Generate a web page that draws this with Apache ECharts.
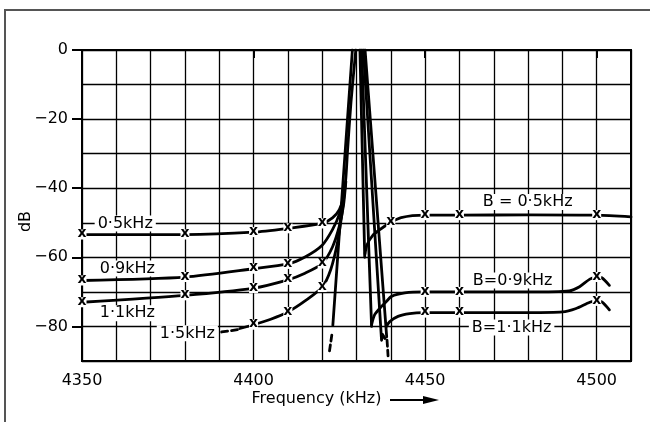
<!DOCTYPE html>
<html>
<head>
<meta charset="utf-8">
<script src="https://cdn.jsdelivr.net/npm/echarts@6/dist/echarts.min.js"></script>
<style>html,body{margin:0;padding:0;background:#fff}#c{width:650px;height:422px}</style>
</head>
<body>
<div id="c"></div>
<script>
// ---- tick labels ----
const xTicks = [4350, 4400, 4450, 4500];
const yTicks = [0, -20, -40, -60, -80];

// ---- lower-side curves (left of the pass band) ----
const curve05 = [[4350,-53.4],[4380,-53.4],[4400,-52.7],[4410,-51.6],[4420,-50.2],[4423,-48.6],[4425,-46.2],[4426.2,-42.5],[4426.9,-37],[4427.4,-29],[4428.4,-15],[4429.8,0]];
const curve09 = [[4350,-66.7],[4380,-65.7],[4400,-63.3],[4410,-61.9],[4415,-59.9],[4420,-56.5],[4423,-52],[4425,-47.5],[4426.2,-42.5]];
const curve11 = [[4350,-73],[4380,-71],[4400,-68.9],[4410,-66.5],[4415,-64.6],[4420,-61.8],[4423,-57],[4425,-51],[4426.2,-45],[4426.9,-38]];
const curve15Dash = [[4390.7,-81.6],[4395.5,-80.9]];
const curve15 = [[4396,-80.6],[4400,-79.5],[4405,-77.9],[4410,-75.8],[4415,-72.6],[4420,-68.6],[4422.5,-63.5],[4424.5,-55.5],[4425.8,-47],[4426.7,-39]];
const skirtL15 = [[4423.1,-79.7],[4428.8,0]];
const skirtL15Dash = [[4422.8,-82.5],[4422,-88]];

// ---- upper-side skirts (right of the pass band) ----
const skirtR05 = [[4431,0],[4432.4,-60]];
const skirtR09 = [[4431.5,0],[4434.4,-80]];
const skirtR11 = [[4432,0],[4437.3,-84],[4437.6,-82.3],[4438,-82],[4438.3,-83.5]];
const skirtR15 = [[4432.5,0],[4438.8,-83]];
const skirtR15Dash = [[4438.9,-84],[4439.2,-88.5]];

// ---- upper-side curves ----
const upper05 = [[4432.5,-59],[4433,-56.5],[4434.8,-53.6],[4436.8,-52],[4439.4,-50.2],[4443,-48.5],[4450,-47.8],[4460,-47.8],[4480,-47.7],[4500,-47.8],[4510,-48.3]];
const upper09 = [[4434.4,-79.5],[4435.3,-76.6],[4437.3,-74.2],[4438.7,-72.8],[4440.2,-71.3],[4444.1,-70.3],[4449.4,-70],[4460,-70],[4480,-70],[4492,-69.7],[4495,-68.5],[4498,-66.3],[4500,-65.7],[4501.5,-65.9],[4503.7,-68.1]];
const upper11 = [[4438.7,-80],[4439.7,-78.6],[4442.1,-77.1],[4445.5,-76.3],[4449.4,-76],[4460,-76],[4480,-76],[4490,-75.8],[4494,-74.8],[4498,-73],[4500,-72.6],[4501.5,-72.9],[4503.7,-75.2]];

// ---- measured points (x markers) ----
const markers05 = [[4350,-53.4],[4380,-53.4],[4400,-52.7],[4410,-51.6],[4420,-50.2],[4440,-50],[4450,-47.8],[4460,-47.8],[4500,-47.8]];
const markers09 = [[4350,-66.7],[4380,-65.7],[4400,-63.3],[4410,-61.9],[4450,-70],[4460,-70],[4500,-65.7]];
const markers11 = [[4350,-73],[4380,-71],[4400,-68.9],[4410,-66.5],[4420,-61.8],[4450,-76],[4460,-76],[4500,-72.6]];
const markers15 = [[4400,-79.5],[4410,-75.8],[4420,-68.6]];

// ---- annotation texts and anchors (data coordinates) ----
const labelTexts = ['0·5kHz','0·9kHz','1·1kHz','1·5kHz','B = 0·5kHz','B=0·9kHz','B=1·1kHz'];
const labelAnchors = [[4362.6,-50.2],[4363.2,-63.2],[4363.2,-76.2],[4380.7,-82],[4479.9,-44],[4475.5,-66.7],[4475.2,-80.3]];

const FONT = 'DejaVu Sans';
const chart = echarts.init(document.getElementById('c'), null, {renderer:'canvas'});

function lineSeries(data, opts) {
  opts = opts || {};
  return {
    type: 'line', data: data, symbol: 'none', silent: true, z: 3,
    smooth: opts.smooth ? 0.25 : false,
    lineStyle: {color: '#000', width: 2.8, type: opts.dash ? [6, 4] : 'solid', cap: 'round', join: 'round'}
  };
}
function markerSeries(data) {
  return {
    type: 'scatter', data: data, symbol: 'rect', symbolSize: [9, 10], z: 5, silent: true,
    itemStyle: {color: '#fff', opacity: 1},
    label: {show: true, position: 'inside', formatter: 'x', color: '#000', fontSize: 14, fontWeight: 'bold',
            fontFamily: FONT, offset: [0, -1]}
  };
}

const series = [
  lineSeries(curve05, {smooth: true}),
  lineSeries(curve09, {smooth: true}),
  lineSeries(curve11, {smooth: true}),
  lineSeries(curve15Dash, {dash: true}),
  lineSeries(curve15, {smooth: true}),
  lineSeries(skirtL15),
  lineSeries(skirtL15Dash, {dash: true}),
  lineSeries(skirtR05),
  lineSeries(skirtR09),
  lineSeries(skirtR11),
  lineSeries(skirtR15),
  lineSeries(skirtR15Dash, {dash: true}),
  lineSeries(upper05, {smooth: true}),
  lineSeries(upper09, {smooth: true}),
  lineSeries(upper11, {smooth: true}),
  markerSeries(markers05),
  markerSeries(markers09),
  markerSeries(markers11),
  markerSeries(markers15),
  {
    type: 'scatter', symbolSize: 0, z: 6, silent: true,
    itemStyle: {opacity: 1},
    data: labelAnchors.map((p, i) => ({value: p, name: labelTexts[i]})),
    label: {show: true, position: 'inside', formatter: p => p.name, color: '#000', fontSize: 16,
            fontFamily: FONT, backgroundColor: '#fff', padding: [0, 3]}
  }
];

const gridLine = {show: true, lineStyle: {color: '#000', width: 1.3}};

chart.setOption({
  animation: false,
  backgroundColor: '#fff',
  grid: {left: 82, top: 50, width: 549, height: 311, show: true, borderColor: '#000', borderWidth: 2, backgroundColor: 'transparent'},
  xAxis: [{
    type: 'value', min: 4350, max: 4510, interval: 10,
    axisLine: {show: true, lineStyle: {color: '#000', width: 2}},
    axisTick: {show: true, customValues: xTicks, length: 8, lineStyle: {color: '#000', width: 2}},
    axisLabel: {customValues: xTicks, margin: 12, color: '#000', fontSize: 16, fontFamily: FONT, formatter: v => String(v)},
    splitLine: {show: false},
    name: 'Frequency (kHz)', nameLocation: 'middle', nameGap: 30, nameMoveOverlap: false,
    nameTextStyle: {color: '#000', fontSize: 16, fontFamily: FONT, padding: [0, 80, 0, 0]}
  }, {
    type: 'value', min: 4350, max: 4510, interval: 10, position: 'top',
    axisLine: {show: false}, axisTick: {show: false}, axisLabel: {show: false},
    splitLine: gridLine
  }],
  yAxis: [{
    type: 'value', min: -90, max: 0, interval: 10,
    axisLine: {show: true, lineStyle: {color: '#000', width: 2}},
    axisTick: {show: true, customValues: yTicks, length: 10, lineStyle: {color: '#000', width: 2}},
    axisLabel: {customValues: yTicks, margin: 14, color: '#000', fontSize: 16, fontFamily: FONT,
                formatter: v => v < 0 ? '\u2212' + (-v) : String(v)},
    splitLine: {show: false},
    name: 'dB', nameLocation: 'middle', nameGap: 48, nameRotate: 90, nameMoveOverlap: false,
    nameTextStyle: {color: '#000', fontSize: 16, fontFamily: FONT, padding: [0, 32, 0, 0]}
  }, {
    type: 'value', min: -90, max: 0, interval: 10, position: 'right',
    axisLine: {show: false}, axisTick: {show: false}, axisLabel: {show: false},
    splitLine: gridLine
  }],
  graphic: [
    {type: 'rect', shape: {x: 5, y: 10, width: 700, height: 500}, style: {fill: 'none', stroke: '#555', lineWidth: 2}, silent: true},
    {type: 'line', shape: {x1: 390, y1: 400, x2: 428, y2: 400}, style: {stroke: '#000', lineWidth: 1.8}, silent: true},
    {type: 'polygon', shape: {points: [[423, 396], [439, 400], [423, 404]]}, style: {fill: '#000'}, silent: true}
  ],
  series: series
});
</script>
</body>
</html>
